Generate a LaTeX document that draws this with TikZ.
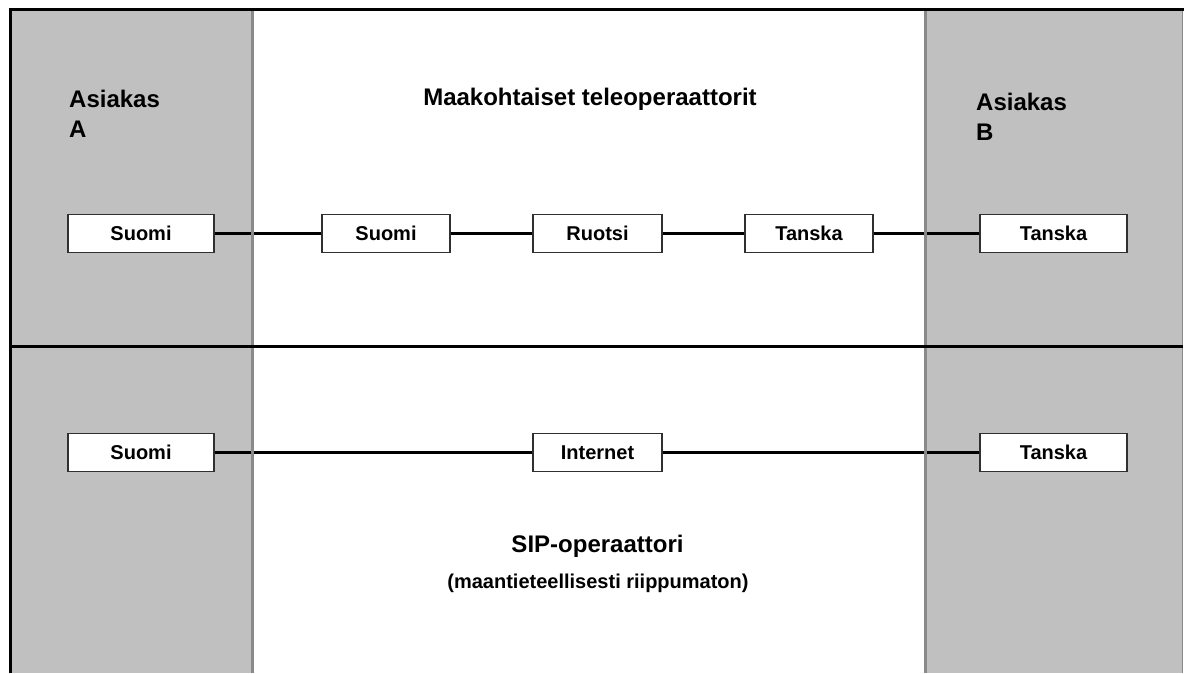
\documentclass[tikz,border=0pt]{standalone}
\usepackage{fontspec}
\setmainfont{Liberation Sans}
\definecolor{panelgray}{HTML}{C0C0C0}
\definecolor{divgray}{HTML}{8A8A8A}
\definecolor{boxline}{HTML}{303030}
\begin{document}
\begin{tikzpicture}[x=1pt,y=-1pt,
  cbox/.style={draw=boxline, line width=1.3pt, fill=white, inner sep=0pt,
    minimum height=38pt, font=\fontsize{20}{23}\selectfont\bfseries},
  link/.style={line width=2.6pt, black},
  title/.style={inner sep=0pt, font=\fontsize{24}{30}\selectfont\bfseries},
  sub/.style={inner sep=0pt, font=\fontsize{20}{24}\selectfont\bfseries}]
\useasboundingbox (0,0) rectangle (1185,673);
\fill[white] (0,0) rectangle (1185,673);
% panels
\fill[panelgray] (10,10) rectangle (252,673);
\fill[panelgray] (925,10) rectangle (1182,673);

% texts
\node[title, anchor=north west, align=left] (ca) at (69,89.5) {Asiakas\\A};
\node[title, anchor=north west, align=left] (cb) at (976,92.5) {Asiakas\\B};
\node[title, anchor=base] (mt) at (590,105) {Maakohtaiset teleoperaattorit};
\node[title, anchor=base] (sip) at (597.5,552) {SIP-operaattori};
\node[sub, anchor=base] (sipx) at (598,588) {(maantieteellisesti riippumaton)};

% top row boxes
\node[cbox, minimum width=146pt] (aS) at (141,233.5) {Suomi};
\node[cbox, minimum width=128pt] (mS) at (386,233.5) {Suomi};
\node[cbox, minimum width=129pt] (mR) at (597.5,233.5) {Ruotsi};
\node[cbox, minimum width=128pt] (mT) at (809,233.5) {Tanska};
\node[cbox, minimum width=147pt] (bT) at (1053.5,233.5) {Tanska};
% bottom row boxes
\node[cbox, minimum width=146pt] (aS2) at (141,452.5) {Suomi};
\node[cbox, minimum width=129pt] (iN) at (597.5,452.5) {Internet};
\node[cbox, minimum width=147pt] (bT2) at (1053.5,452.5) {Tanska};

% connectors
\draw[link] (aS) -- (mS);
\draw[link] (mS) -- (mR);
\draw[link] (mR) -- (mT);
\draw[link] (mT) -- (bT);
\draw[link] (aS2) -- (iN);
\draw[link] (iN) -- (bT2);

% dividers
\draw[divgray, line width=3pt] (252,10) -- (252,673);
\draw[divgray, line width=3pt] (925,10) -- (925,673);
\draw[divgray, line width=1.5pt] (1182.5,10) -- (1182.5,673);
\draw[black, line width=3pt] (10,346) -- (1183,346);
% outer frame
\draw[black, line width=3.5pt] (10.5,673) -- (10.5,9.5) -- (1183.5,9.5);
\end{tikzpicture}
\end{document}
